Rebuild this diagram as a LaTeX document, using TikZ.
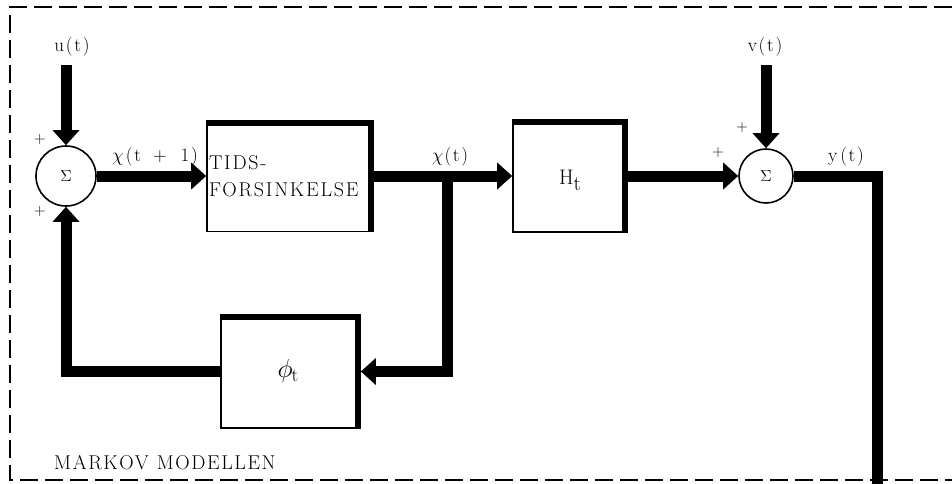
\RequirePackage{fix-cm}
\documentclass[tikz,border=0pt]{standalone}
\usepackage{fontspec}
\usetikzlibrary{arrows.meta}
\newfontfamily\spaced[LetterSpace=9]{Latin Modern Roman}
\newfontfamily\spacedb[LetterSpace=8]{Latin Modern Roman}
\begin{document}
\begin{tikzpicture}[x=1pt,y=-1pt,
  flow/.style={line width=11pt, line join=miter, -{Triangle[width=26pt,length=15pt]}},
  flowplain/.style={line width=11pt, line join=miter},
  sumnode/.style={circle, draw, line width=1.6pt, inner sep=0pt, font=\fontsize{16}{18}\selectfont},
  blockbox/.style={draw, line width=1.6pt, inner sep=0pt},
  lbl/.style={font=\fontsize{19}{20}\selectfont\spaced, inner sep=0pt},
  plus/.style={font=\fontsize{16}{16}\selectfont, inner sep=0pt},
  frame/.style={line width=2.2pt, dash pattern=on 18pt off 7pt}
]
\useasboundingbox (0,0) rectangle (952,483);
% frame
\draw[frame] (952,7) -- (10,7) -- (10,480) -- (952,480);
% nodes
\node[sumnode, minimum size=60pt] (s1) at (66,176) {$\Sigma$};
\node[sumnode, minimum size=54pt] (s2) at (766,176) {$\Sigma$};
\node[blockbox, minimum width=166pt, minimum height=111pt, text width=162pt, align=left, inner xsep=2pt,
      font=\fontsize{20}{27}\selectfont\spaced] (tids) at (290,176) {TIDS-\\FORSINKELSE};
\node[blockbox, minimum width=114pt, minimum height=112pt] (H) at (570,176) {};
\node[font=\fontsize{21}{24}\selectfont, inner sep=0pt] (Hl) at (570,180) {H\raisebox{-6pt}{t}};
\node[blockbox, minimum width=139pt, minimum height=113pt] (phi) at (290.5,371.5) {};
\node[font=\fontsize{26}{28}\selectfont, inner sep=0pt] (phil) at (288,371) {$\phi$\kern-1pt\raisebox{-4pt}{\fontsize{19}{20}\selectfont t}};
% thick top and right edges (shadow)
\foreach \b in {tids,H,phi}{
  \draw[line width=6pt, line join=miter] ([yshift=-3pt]\b.north west) -- ([xshift=-3pt,yshift=-3pt]\b.north east) -- ([xshift=-3pt]\b.south east);
}
% coordinates
\coordinate (uin) at (66,65);
\coordinate (vin) at (766,65);
\coordinate (br) at (447,176);
\coordinate (yend) at (877,486);
% connectors
\draw[flow] (uin) -- (s1.north);
\draw[flow] (vin) -- (s2.north);
\draw[flow] (s1.east) -- (tids.west);
\draw[flow] (tids.east) -- (H.west);
\draw[flow] (H.east) -- (s2.west);
\draw[flow] (br) |- (phi.east);
\draw[flow] (phi.west) -| (s1.south);
\draw[flowplain] (s2.east) -| (yend);
% labels
\node[lbl] (ul) at (72,47) {u(t)};
\node[lbl] (vl) at (765,47) {v(t)};
\node[lbl, anchor=west] (xl1) at (112,157) {$\chi$\hspace{2pt}(t\hspace{12pt}+\hspace{14pt}1)};
\node[lbl] (xl2) at (450,157) {$\chi$\hspace{1pt}(t)};
\node[lbl] (yl) at (846,157) {y\hspace{3pt}(t)};
\node[plus] (p1) at (40,140) {+};
\node[plus] (p2) at (40,212) {+};
\node[plus] (p3) at (742,128) {+};
\node[plus] (p4) at (718,153) {+};
\node[font=\fontsize{20}{24}\selectfont\spacedb, inner sep=0pt, anchor=west] (mm) at (54,463) {MARKOV\hspace{8pt}MODELLEN};
\end{tikzpicture}
\end{document}
